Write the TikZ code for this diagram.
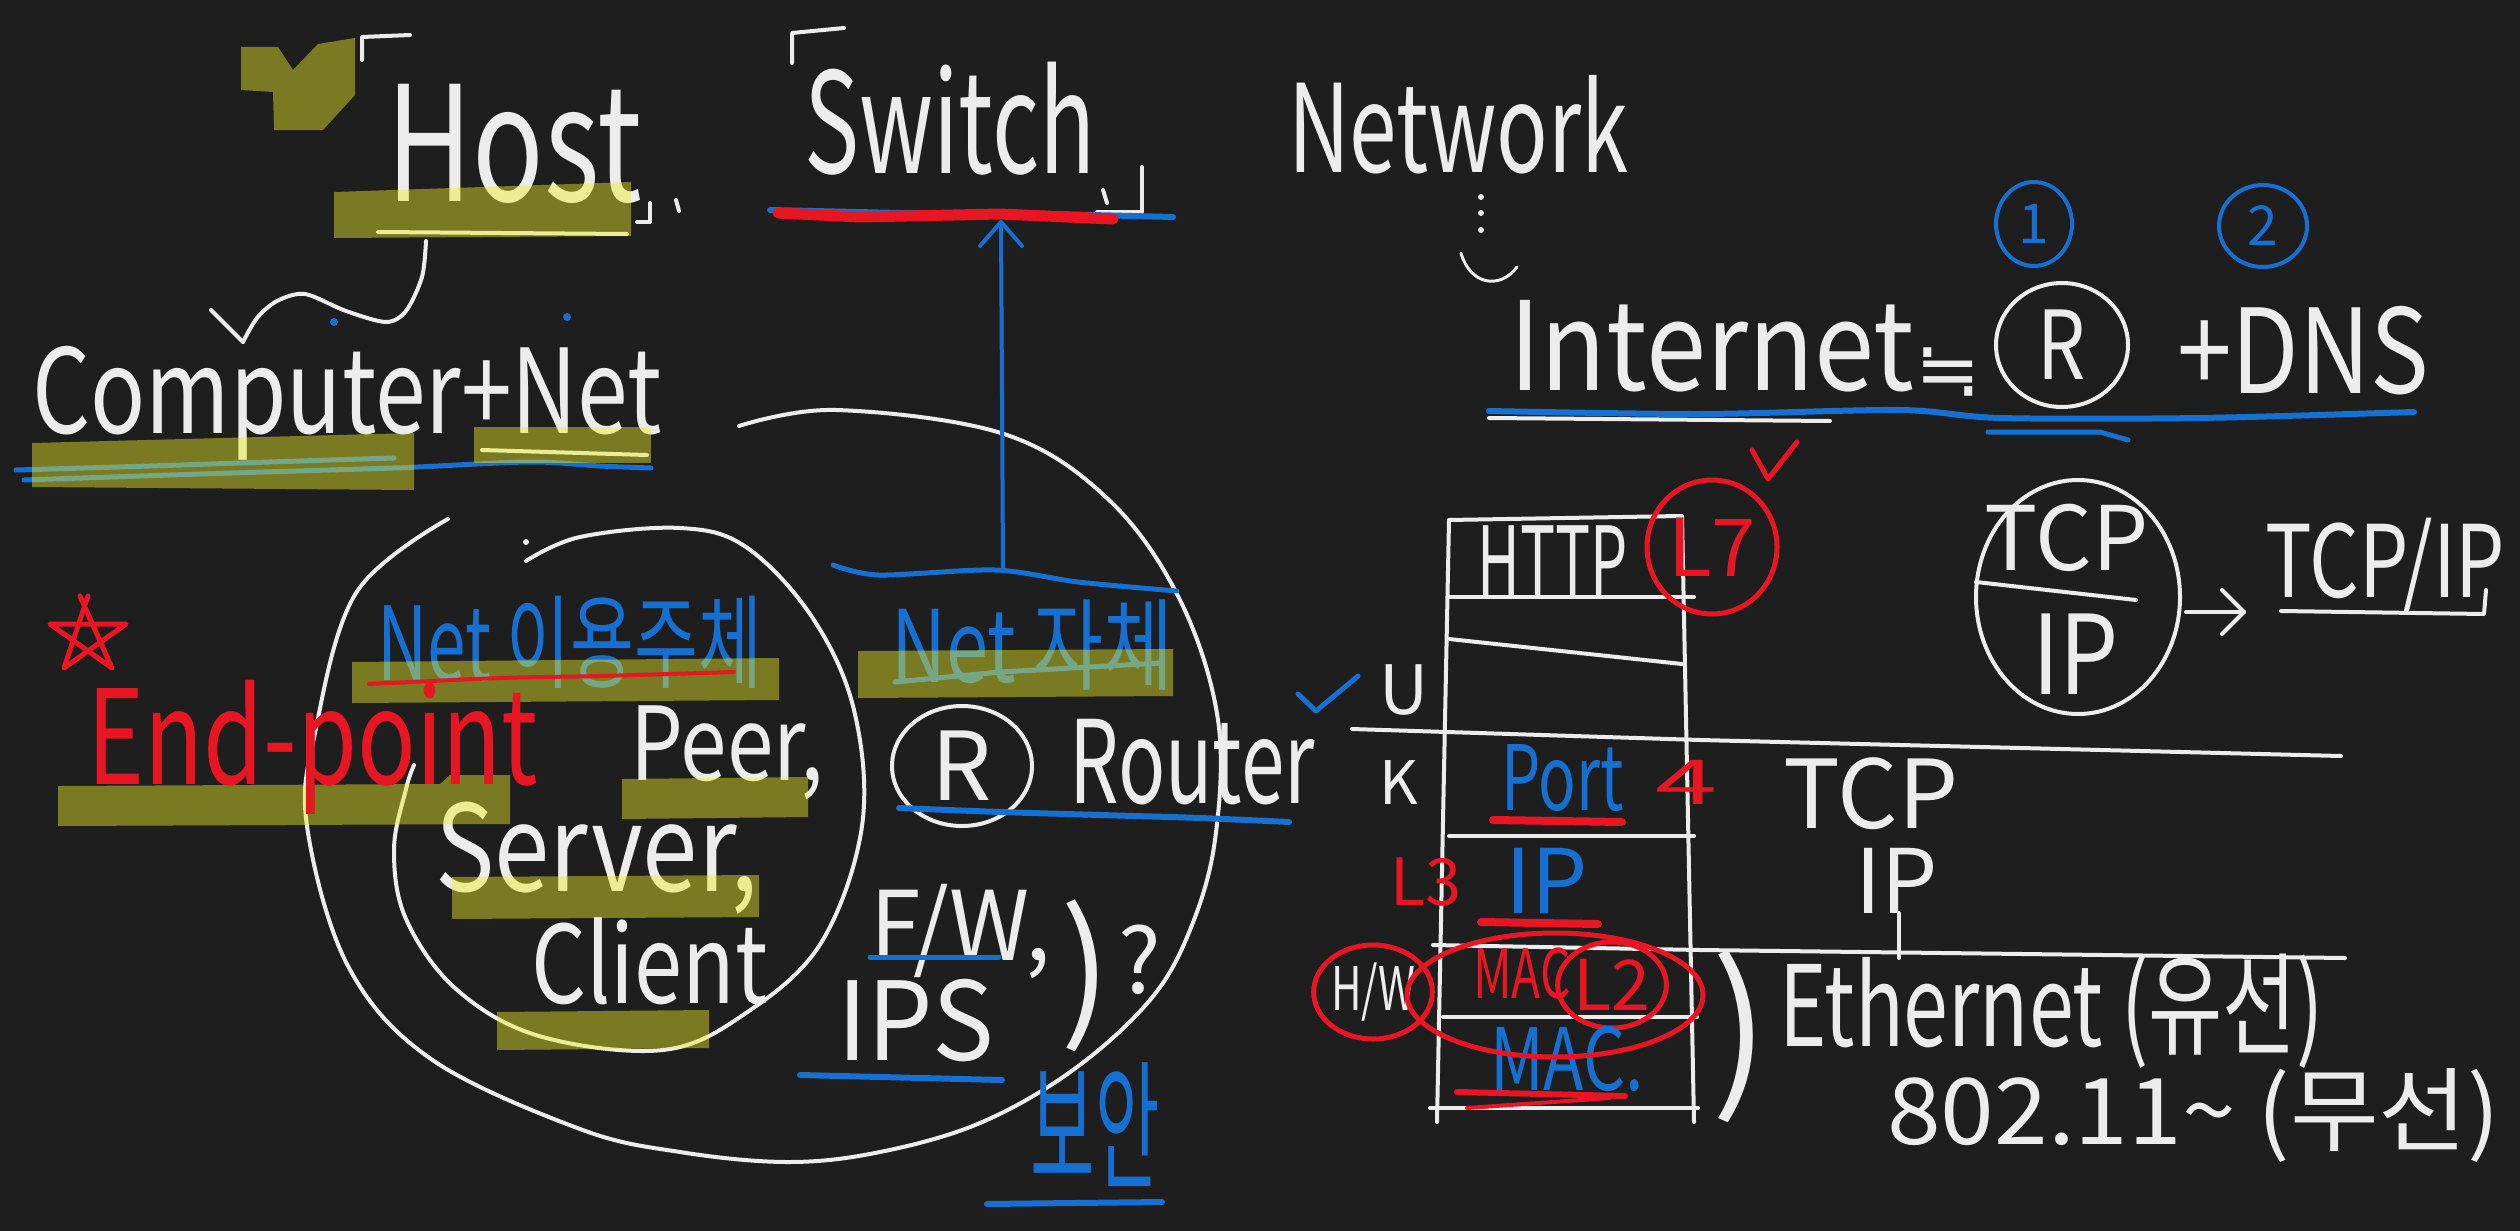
\documentclass[tikz,border=0pt]{standalone}
\usepackage{fontspec}
\usepackage{graphicx}
\setmainfont{Noto Sans CJK KR}
\newfontfamily\djv{DejaVu Sans}
\usetikzlibrary{shapes.geometric}
\definecolor{bgc}{RGB}{30,30,30}
\definecolor{wht}{RGB}{236,236,236}
\definecolor{blu}{RGB}{22,112,210}
\definecolor{rd}{RGB}{232,22,34}
\definecolor{hly}{RGB}{236,236,40}
\newcommand{\fs}[1]{\fontsize{#1}{#1}\selectfont}
\newcommand{\hs}[2]{\scalebox{#1}[1]{#2}}
\begin{document}
\begin{tikzpicture}[x=1pt,y=-1pt,
  txt/.style={inner sep=0pt, anchor=base west, text=wht},
  pen/.style={line width=4pt, line cap=round, line join=round, draw=wht},
  bpen/.style={pen, draw=blu, line width=6pt},
  rpen/.style={pen, draw=rd, line width=5pt},
  hl/.style={fill=hly, fill opacity=0.45},
  ring/.style={ellipse, draw, line width=4pt, inner sep=0pt},
]
\fill[bgc] (0,0) rectangle (2520,1231);
\useasboundingbox (0,0) rectangle (2520,1231);

% ---------- big circles ----------
\draw[pen] plot[smooth, tension=0.6] coordinates {(739,426) (836,410) (1004,434) (1109,500) (1180,600) (1218,720) (1215,840) (1190,930) (1150,1000) (1073,1070) (980,1123) (880,1152) (788,1162) (680,1152) (580,1129) (431,1059) (348,966) (307,826) (315,733) (356,593) (448,519)};
\draw[pen] plot[smooth, tension=0.6] coordinates {(526,561) (580,537) (680,528) (746,547) (812,617) (854,710) (862,826) (821,943) (746,1013) (663,1050) (539,1036) (456,989) (406,919) (394,850) (406,789) (414,765)};
\fill[wht] (526,542) circle (3);

% ---------- top left ----------
\draw[pen] (362,60) -- (362,37) -- (410,35);
\node[txt,font=\fs{160}] (host) at (386,201) {\hs{0.74}{Host}};
\draw[pen] (637,222) -- (650,222) -- (650,203);
\draw[pen] (676,200) -- (679,211);
\draw[pen] (378,232) -- (627,234);
\coordinate (hstart) at (426,241);
\coordinate (hend) at (243,342);
\draw[pen] plot[smooth] coordinates {(hstart) (422,277) (406,311) (386,322) (346,311) (305,294) (277,301) (257,318) (hend)};
\draw[pen] (211,310) -- (hend);

\node[txt,font=\fs{117}] (comp) at (32,433) {\hs{0.78}{Computer+Net}};
\draw[pen] (482,450) -- (647,455);
\draw[bpen, line width=5pt] plot[smooth] coordinates {(16,470) (150,466) (300,461) (394,458)};
\draw[bpen, line width=5pt] plot[smooth] coordinates {(24,480) (200,474) (394,468) (418,467) (531,462) (600,466) (651,468)};
\fill[blu] (334,322) circle (4);
\fill[blu] (567,317) circle (4);

% ---------- Switch ----------
\draw[pen] (792,63) -- (792,33) -- (844,28);
\node[txt,font=\fs{140}] (sw) at (804,173) {\hs{0.66}{Switch}};
\draw[pen] (1097,212) -- (1142,212) -- (1142,167);
\draw[pen] (1103,190) -- (1107,203);
\draw[bpen] (770,210) -- (900,213) -- (1050,214) -- (1173,217);
\draw[pen, draw=rd, line width=11pt] (778,213) -- (860,217) -- (1000,214) -- (1113,219);

% ---------- Network / Internet ----------
\node[txt,font=\fs{122}] (netw) at (1288,172) {\hs{0.7}{Network}};
\foreach \yy in {197,213,230} \fill[wht] (1481,\yy) circle (3);
\draw[pen, line width=3pt] (1461,253) .. controls (1470,285) and (1500,290) .. (1517,267);
\node[txt,font=\fs{123}] (inet) at (1509,390) {\hs{0.88}{Internet}};
\node[inner sep=0pt, text=wht, font=\djv\fs{78}] (approx) at (1948,372) {≒};
\node[ring, draw=wht, minimum width=132pt, minimum height=124pt, text=wht, font=\fs{95}] (rint) at (2062,345) {\hs{0.8}{R}};
\node[txt,font=\fs{117}] (dns) at (2177,393) {\hs{0.84}{+DNS}};
\node[ring, draw=blu, minimum width=76pt, minimum height=84pt, text=blu, font=\fs{55}] (n1) at (2034,224) {1};
\node[ring, draw=blu, minimum width=88pt, minimum height=82pt, text=blu, font=\fs{55}] (n2) at (2263,226) {2};
\draw[pen] (1489,418) -- (1830,421);
\draw[bpen] plot[smooth] coordinates {(1489,411) (1700,414) (1900,410) (2000,418) (2200,418) (2414,412)};
\draw[bpen, line width=5pt] (1988,432) -- (2100,432) -- (2128,440);

% ---------- inner texts ----------
\node[txt,font=\fs{102}, text=blu] (use) at (377,680) {\hs{0.68}{Net 이용주체}};
\node[txt,font=\fs{102}] (peer) at (630,780) {\hs{0.82}{Peer,}};
\node[txt,font=\fs{120}] (serv) at (435,891) {\hs{0.83}{Server,}};
\node[txt,font=\fs{108}] (cli) at (531,1003) {\hs{0.8}{Client}};
\node[txt,font=\fs{100}, text=blu] (self) at (891,682) {\hs{0.76}{Net 자체}};
\draw[bpen, line width=5pt] plot[smooth] coordinates {(833,565) (879,575) (995,570) (1078,582) (1177,591)};
\draw[bpen, line width=5pt] (895,682) -- (1000,672) -- (1161,663);
\coordinate (upbot) at (1003,568);
\coordinate (uptip) at (1001,222);
\draw[bpen, line width=4pt] (upbot) -- (uptip);
\draw[bpen, line width=4pt] (980,246) -- (uptip) -- (1022,246);
\node[ring, draw=wht, minimum width=140pt, minimum height=120pt, text=wht, font=\fs{95}] (rr) at (962,766) {R};
\node[txt,font=\fs{115}] (rout) at (1069,803) {\hs{0.68}{Router}};
\draw[bpen] plot[smooth] coordinates {(899,808) (1000,812) (1100,815) (1200,818) (1289,822)};
\node[txt,font=\fs{96}] (fw) at (870,960) {\hs{0.95}{F/W,}};
\draw[bpen, line width=5pt] (870,957) -- (999,957);
\node[txt,font=\fs{109}] (ips) at (837,1060) {\hs{0.95}{IPS}};
\draw[bpen] (800,1075) -- (1002,1080);
\node[inner sep=0pt, text=wht, font=\fs{150}] (par1) at (1086,976) {)};
\node[inner sep=0pt, text=wht, font=\fs{90}] (qm) at (1140,960) {?};
\node[inner sep=0pt, text=blu, font=\fs{140}] (sec) at (1095,1125) {\hs{0.5}{보안}};
\draw[bpen] (987,1204) -- (1162,1202);

% ---------- layer table ----------
\draw[pen] (1449,520) -- (1680,516);
\draw[pen] (1449,597) -- (1694,597);
\draw[pen] (1449,639) -- (1682,664);
\draw[pen] (1352,729) -- (1700,740) -- (2341,756);
\draw[pen] (1449,836) -- (1694,836);
\draw[pen] (1433,945) -- (1700,950) -- (2345,958);
\draw[pen] (1443,1017) -- (1697,1017);
\draw[pen] (1430,1108) -- (1698,1108);
\draw[pen] (1449,520) -- (1437,1122);
\draw[pen] (1682,516) -- (1694,1122);
\node[txt,font=\fs{98}] (http) at (1477,597) {\hs{0.6}{HTTP}};
\node[ring, draw=rd, line width=5pt, minimum width=130pt, minimum height=134pt, text=rd, font=\fs{80}] (l7) at (1712,547) {L7};
\draw[rpen] (1752,450) -- (1768,479) -- (1797,442);
\draw[bpen, line width=5pt] (1298,694) -- (1316,711) -- (1358,676);
\node[txt,font=\fs{68}] (uu) at (1379,714) {U};
\node[txt,font=\fs{60}] (kk) at (1379,804) {K};
\node[txt,font=\fs{90}, text=blu] (port) at (1501,810) {\hs{0.69}{Port}};
\node[txt,font=\fs{62}, text=rd] (four) at (1655,804) {\hs{1.8}{4}};
\node[txt,font=\fs{95}] (tcp1) at (1783,828) {TCP};
\node[txt,font=\fs{65}, text=rd] (l3) at (1390,905) {L3};
\node[txt,font=\fs{89}, text=blu] (ip1) at (1505,913) {IP};
\node[txt,font=\fs{89}] (ip2) at (1855,913) {IP};
\draw[pen] (1899,913) -- (1899,958);
\node[ring, draw=rd, line width=5pt, minimum width=90pt, minimum height=94pt, text=wht, font=\fs{60}] (hw) at (1373,992) {\hs{0.7}{H/W}};
\node[txt,font=\fs{68}, text=rd] (mac1) at (1473,998) {\hs{0.7}{MAC}};
\node[ring, draw=rd, line width=5pt, minimum width=82pt, minimum height=86pt, text=rd, font=\fs{70}] (l2) at (1612,985) {L2};
\node[txt,font=\fs{86}, text=blu] (mac2) at (1490,1090) {\hs{0.77}{MAC.}};
\node[inner sep=0pt, text=wht, font=\fs{170}] (par2) at (1740,1037) {)};
\node[txt,font=\fs{112}] (eth) at (1779,1046) {\hs{0.72}{Ethernet (유선)}};
\node[txt,font=\fs{92}] (wifi) at (1887,1144) {\hs{1.05}{802.11\textasciitilde{} (무선)}};

% ---------- TCP/IP ----------
\node[ring, draw=wht, minimum width=204pt, minimum height=234pt] (tcpc) at (2078,597) {};
\node[txt,font=\fs{89}] (tcp2) at (1984,570) {TCP};
\draw[pen] (1976,582) -- (2136,600);
\node[txt,font=\fs{110}] (ip3) at (2032,694) {\hs{0.85}{IP}};
\coordinate (a1) at (2186,612);
\coordinate (a2) at (2244,612);
\draw[pen] (a1) -- (a2);
\draw[pen] (2222,590) -- (a2) -- (2222,634);
\node[txt,font=\fs{100}] (tcpip) at (2265,597) {\hs{0.78}{TCP/IP}};
\draw[pen] (2281,611) -- (2484,614) -- (2486,590);

% ---------- highlights ----------
\fill[hl] (241,47) -- (278,47) -- (293,70) -- (318,44) -- (355,38) -- (355,95) -- (323,130) -- (274,130) -- (273,92) -- (241,90) -- cycle;
\fill[hl] (334,192) -- (631,182) -- (631,236) -- (334,238) -- cycle;
\fill[hl] (32,443) -- (414,433) -- (414,490) -- (32,487) -- cycle;
\fill[hl] (474,427) rectangle (651,463);
\fill[hl] (58,786) -- (440,784) -- (450,775) -- (510,775) -- (510,824) -- (58,826) -- cycle;
\fill[hl] (352,662) -- (779,658) -- (779,700) -- (352,703) -- cycle;
\fill[hl] (622,779) -- (808,777) -- (808,817) -- (622,819) -- cycle;
\fill[hl] (452,877) -- (759,875) -- (759,917) -- (452,919) -- cycle;
\fill[hl] (497,1012) -- (709,1010) -- (709,1048) -- (497,1050) -- cycle;
\fill[hl] (858,651) -- (1173,649) -- (1173,696) -- (858,698) -- cycle;

% ---------- red on top ----------
\draw[rpen] (80,596) -- (112,668) -- (50,624) -- (126,624) -- (64,668) -- (88,596);
\node[txt,font=\fs{131}, text=rd] (endp) at (87,784) {\hs{0.74}{End-point}};
\draw[rpen, line width=4pt] plot[smooth] coordinates {(369,684) (500,678) (600,676) (734,672)};
\draw[rpen, line width=8pt] (1493,820) -- (1622,822);
\draw[rpen, line width=8pt] (1481,922) -- (1598,924);
\draw[rpen, line width=6pt] (1457,1092) -- (1625,1096);
\draw[rpen, line width=4pt] (1467,1108) -- (1610,1098);
\node[ring, draw=rd, line width=5pt, minimum width=296pt, minimum height=124pt] (macring) at (1555,995) {};
\end{tikzpicture}
\end{document}
